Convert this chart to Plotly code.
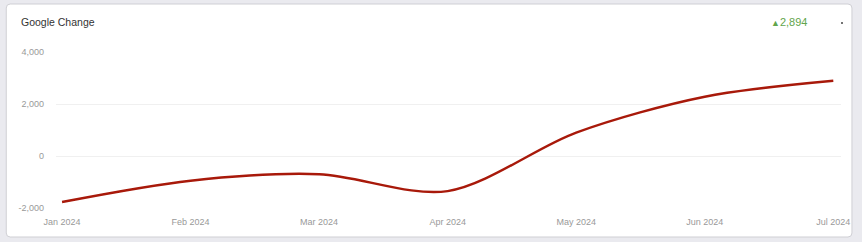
import plotly.graph_objects as go

months = ["Jan 2024", "Feb 2024", "Mar 2024", "Apr 2024", "May 2024", "Jun 2024", "Jul 2024"]
values = [-1770, -950, -700, -1350, 900, 2280, 2894]
y_ticks = [-2000, 0, 2000, 4000]
y_tick_text = ["-2,000", "0", "2,000", "4,000"]
title_text = "Google Change"
change_text = "2,894"

W, H = 862, 242
L, R, T, B = 56, 17, 52, 34
pw, ph = W - L - R, H - T - B

def px(x):
    return (x - L) / pw

def py(y):
    return (H - B - y) / ph

fig = go.Figure()
fig.add_trace(go.Scatter(
    x=list(range(len(months))), y=values, mode="lines",
    line=dict(color="#a8190a", width=2.4, shape="spline", smoothing=0.9),
    hoverinfo="skip", showlegend=False,
))

# card with rounded corners
x0, x1, y0, y1, r = 6, 856, 4, 237, 4
path = (f"M {px(x0+r)},{py(y0)} L {px(x1-r)},{py(y0)} Q {px(x1)},{py(y0)} {px(x1)},{py(y0+r)} "
        f"L {px(x1)},{py(y1-r)} Q {px(x1)},{py(y1)} {px(x1-r)},{py(y1)} "
        f"L {px(x0+r)},{py(y1)} Q {px(x0)},{py(y1)} {px(x0)},{py(y1-r)} "
        f"L {px(x0)},{py(y0+r)} Q {px(x0)},{py(y0)} {px(x0+r)},{py(y0)} Z")
fig.add_shape(type="path", path=path, xref="paper", yref="paper",
              fillcolor="white", line=dict(color="#cfcfd4", width=1), layer="below")
fig.add_shape(type="circle", xref="paper", yref="paper",
              x0=px(845), x1=px(847), y0=py(24), y1=py(22),
              fillcolor="#444", line=dict(width=0))

fig.add_annotation(x=px(19), y=py(22), xref="paper", yref="paper", text=title_text,
                   showarrow=False, xanchor="left", yanchor="middle",
                   font=dict(family="Arial, Liberation Sans", size=10.5, color="#333"))
fig.add_annotation(x=px(813), y=py(22), xref="paper", yref="paper",
                   text="<span style='font-size:9px'>▲</span>" + change_text,
                   showarrow=False, xanchor="right", yanchor="middle",
                   font=dict(family="Arial, Liberation Sans", size=11, color="#62a54c"))

fig.update_layout(
    width=W, height=H, margin=dict(l=L, r=R, t=T, b=B),
    paper_bgcolor="#eaeaef", plot_bgcolor="white",
    font=dict(family="Arial, Liberation Sans", size=9, color="#999"),
    xaxis=dict(tickmode="array", tickvals=list(range(len(months))), ticktext=months,
               range=[-0.047, 6.06], showgrid=False, zeroline=False, showline=False,
               ticks="", ticklabelstandoff=7, tickfont=dict(size=9, color="#999")),
    yaxis=dict(range=[-2000, 4000], tickvals=y_ticks, ticktext=y_tick_text,
               showgrid=True, gridcolor="#f0f0f0", gridwidth=1, zeroline=False,
               showline=False, ticks="", ticklabelstandoff=11,
               tickfont=dict(size=9, color="#999")),
)

fig.write_html("out.html")
